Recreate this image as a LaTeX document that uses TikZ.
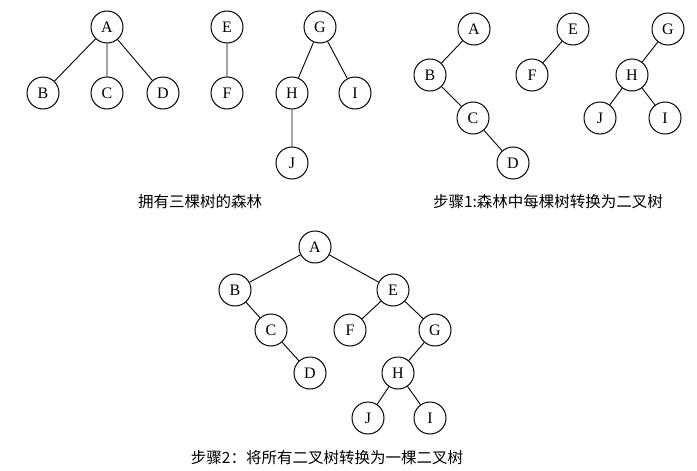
\documentclass[tikz,border=0pt]{standalone}
\usepackage{fontspec}
\setmainfont{Liberation Serif}
\newfontfamily\cjk{Noto Sans CJK SC}
\begin{document}
\begin{tikzpicture}[x=1pt,y=-1pt,
  vtx/.style={circle,draw,line width=1pt,minimum size=32pt,inner sep=0pt,font=\fontsize{16}{16}\selectfont},
  edge/.style={line width=0.9pt},
  captext/.style={font=\cjk\fontsize{15.5}{16}\selectfont}]
\useasboundingbox (0,0) rectangle (697,471);
% forest
\node[vtx] (A1) at (107,27) {A};
\node[vtx] (B1) at (43,93) {B};
\node[vtx] (C1) at (107,93) {C};
\node[vtx] (D1) at (163,93) {D};
\node[vtx] (E1) at (227,27) {E};
\node[vtx] (F1) at (227,93) {F};
\node[vtx] (G1) at (320,27) {G};
\node[vtx] (H1) at (292,93) {H};
\node[vtx] (I1) at (355,93) {I};
\node[vtx] (J1) at (292,163) {J};
\draw[edge] (A1)--(B1) (A1)--(C1) (A1)--(D1) (E1)--(F1) (G1)--(H1) (G1)--(I1) (H1)--(J1);
\node[captext] (cap1) at (200,202) {拥有三棵树的森林};
% step 1
\node[vtx] (A2) at (474,29) {A};
\node[vtx] (B2) at (430,75) {B};
\node[vtx] (C2) at (473,118) {C};
\node[vtx] (D2) at (513,163) {D};
\node[vtx] (E2) at (573,29) {E};
\node[vtx] (F2) at (532,75) {F};
\node[vtx] (G2) at (668,29) {G};
\node[vtx] (H2) at (632,75) {H};
\node[vtx] (J2) at (600,118) {J};
\node[vtx] (I2) at (665,118) {I};
\draw[edge] (A2)--(B2) (B2)--(C2) (C2)--(D2) (E2)--(F2) (G2)--(H2) (H2)--(J2) (H2)--(I2);
\node[captext] (cap2) at (548,202) {步骤1:森林中每棵树转换为二叉树};
% step 2
\node[vtx] (A3) at (315,247) {A};
\node[vtx] (B3) at (235,290) {B};
\node[vtx] (C3) at (271,330) {C};
\node[vtx] (D3) at (310,373) {D};
\node[vtx] (E3) at (393,290) {E};
\node[vtx] (F3) at (350,330) {F};
\node[vtx] (G3) at (435,330) {G};
\node[vtx] (H3) at (398,373) {H};
\node[vtx] (J3) at (368,418) {J};
\node[vtx] (I3) at (430,418) {I};
\draw[edge] (A3)--(B3) (B3)--(C3) (C3)--(D3) (A3)--(E3) (E3)--(F3) (E3)--(G3) (G3)--(H3) (H3)--(J3) (H3)--(I3);
\node[captext] (cap3) at (327,458) {步骤2：将所有二叉树转换为一棵二叉树};
\end{tikzpicture}
\end{document}
